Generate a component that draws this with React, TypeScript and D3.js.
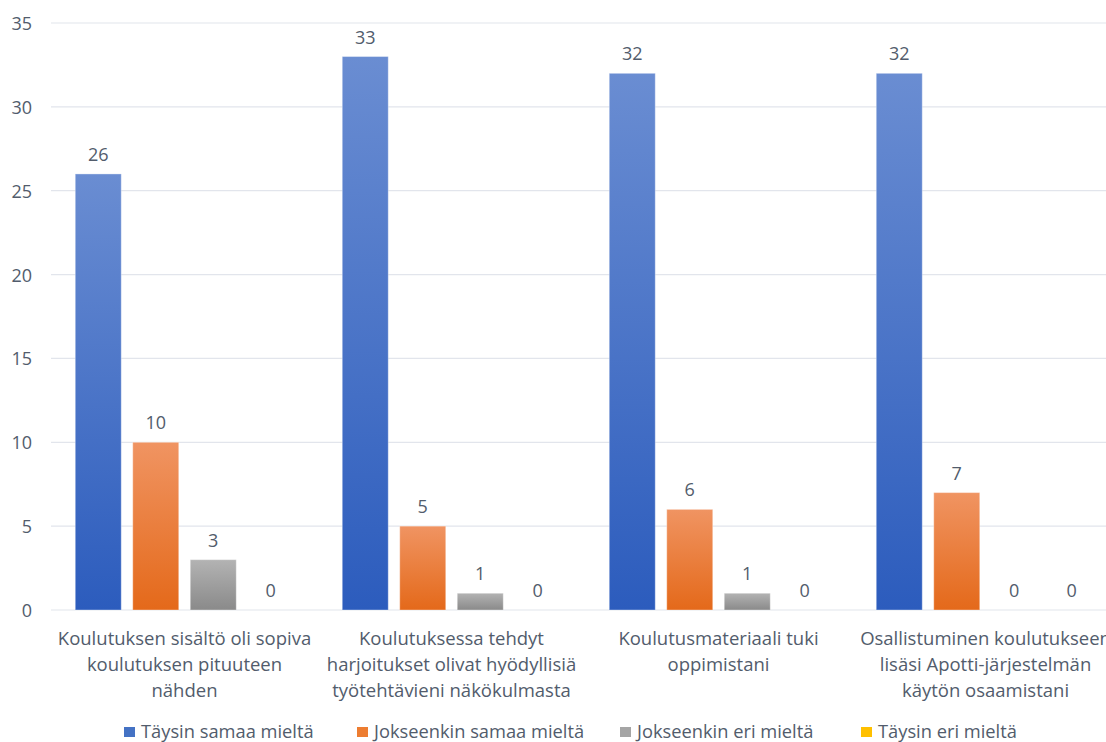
import React from "react";
import * as d3 from "d3";

const categories: string[][] = [
  ["Koulutuksen sisältö oli sopiva", "koulutuksen pituuteen", "nähden"],
  ["Koulutuksessa tehdyt", "harjoitukset olivat hyödyllisiä", "työtehtävieni näkökulmasta"],
  ["Koulutusmateriaali tuki", "oppimistani"],
  ["Osallistuminen koulutukseen", "lisäsi Apotti-järjestelmän", "käytön osaamistani"],
];
const seriesNames = [
  "Täysin samaa mieltä",
  "Jokseenkin samaa mieltä",
  "Jokseenkin eri mieltä",
  "Täysin eri mieltä",
];
const taysinSamaa = [26, 33, 32, 32];
const jokseenkinSamaa = [10, 5, 6, 7];
const jokseenkinEri = [3, 1, 1, 0];
const taysinEri = [0, 0, 0, 0];
const seriesValues = [taysinSamaa, jokseenkinSamaa, jokseenkinEri, taysinEri];
const yTicks = [0, 5, 10, 15, 20, 25, 30, 35];

const gradients = [
  { id: "g0", top: "#6a8dd2", bottom: "#2c5cbd", solid: "#4472c4" },
  { id: "g1", top: "#f09462", bottom: "#e4691a", solid: "#ed7d31" },
  { id: "g2", top: "#b3b3b3", bottom: "#8a8a8a", solid: "#a5a5a5" },
  { id: "g3", top: "#ffd54a", bottom: "#f0b400", solid: "#ffc000" },
];

const W = 1106;
const H = 742;
const FONT = "'Open Sans', sans-serif";
const TEXT = "#525c6c";

export default function App() {
  const y = d3.scaleLinear().domain([0, 35]).range([610, 23]);
  const x0 = d3
    .scaleBand<number>()
    .domain(categories.map((_, i) => i))
    .range([51, 51 + 267 * 4])
    .paddingInner(0)
    .paddingOuter(0);
  const x1 = d3
    .scaleBand<number>()
    .domain(seriesNames.map((_, i) => i))
    .range([24.25, 242.75])
    .paddingInner(0.2)
    .paddingOuter(0);

  const legendX = [124, 357, 620, 861];

  return (
    <svg
      width={W}
      height={H}
      style={{ position: "absolute", left: 0, top: 0, background: "#fff" }}
      fontFamily={FONT}
    >
      <defs>
        {gradients.map((g) => (
          <linearGradient key={g.id} id={g.id} x1="0" y1="0" x2="0" y2="1">
            <stop offset="0%" stopColor={g.top} />
            <stop offset="100%" stopColor={g.bottom} />
          </linearGradient>
        ))}
      </defs>
      {yTicks.map((t) => (
        <g key={t}>
          <line x1={51} x2={W} y1={y(t)} y2={y(t)} stroke="#e2e5ec" strokeWidth={1.2} />
          <text x={32} y={y(t) + 7} textAnchor="end" fontSize={18} fill={TEXT}>
            {t}
          </text>
        </g>
      ))}
      {categories.map((cat, ci) => (
        <g key={ci} transform={`translate(${x0(ci)},0)`}>
          {seriesValues.map((vals, si) => {
            const v = vals[ci];
            const bx = x1(si)!;
            const bw = x1.bandwidth();
            return (
              <g key={si}>
                {v > 0 && (
                  <rect
                    x={bx}
                    y={y(v)}
                    width={bw}
                    height={y(0) - y(v)}
                    fill={`url(#${gradients[si].id})`}
                    stroke="rgba(255,255,255,0.35)"
                    strokeWidth={1}
                  />
                )}
                <text
                  x={bx + bw / 2}
                  y={y(v) - 13}
                  textAnchor="middle"
                  fontSize={18}
                  fill={TEXT}
                >
                  {v}
                </text>
              </g>
            );
          })}
          {cat.map((line, li) => (
            <text
              key={li}
              x={x0.bandwidth() / 2}
              y={645 + li * 26}
              textAnchor="middle"
              fontSize={18.5}
              fill={TEXT}
            >
              {line}
            </text>
          ))}
        </g>
      ))}
      {seriesNames.map((name, si) => (
        <g key={si}>
          <rect x={legendX[si]} y={727} width={11} height={10} fill={gradients[si].solid} />
          <text x={legendX[si] + 17} y={738} fontSize={18.3} fill={TEXT}>
            {name}
          </text>
        </g>
      ))}
    </svg>
  );
}
